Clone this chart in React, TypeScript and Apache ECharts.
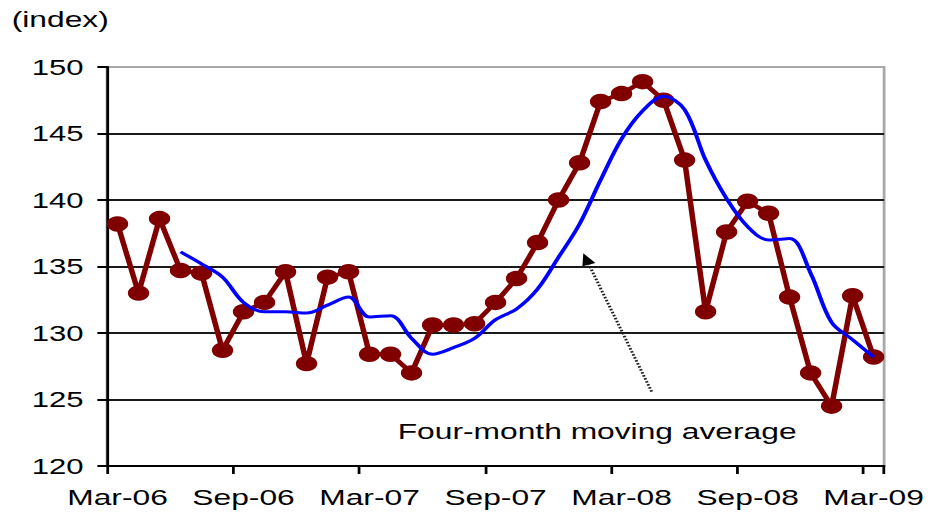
import React, { useEffect, useRef } from "react";
import * as echarts from "echarts";

const categories: string[] = [
  "Mar-06", "Apr-06", "May-06", "Jun-06", "Jul-06", "Aug-06", "Sep-06", "Oct-06", "Nov-06", "Dec-06",
  "Jan-07", "Feb-07", "Mar-07", "Apr-07", "May-07", "Jun-07", "Jul-07", "Aug-07", "Sep-07", "Oct-07",
  "Nov-07", "Dec-07", "Jan-08", "Feb-08", "Mar-08", "Apr-08", "May-08", "Jun-08", "Jul-08", "Aug-08",
  "Sep-08", "Oct-08", "Nov-08", "Dec-08", "Jan-09", "Feb-09", "Mar-09",
];

const indexValues: number[] = [
  138.2, 133.0, 138.6, 134.7, 134.5, 128.7, 131.6, 132.3, 134.6, 127.7,
  134.2, 134.6, 128.4, 128.4, 127.0, 130.6, 130.6, 130.7, 132.3, 134.1,
  136.8, 140.0, 142.8, 147.4, 148.0, 148.9, 147.5, 143.0, 131.6, 137.6,
  139.9, 139.0, 132.7, 127.0, 124.5, 132.8, 128.2,
];

const movingAverage: (number | null)[] = [
  null, null, null, 136.1, 135.2, 134.2, 132.3, 131.6, 131.6, 131.5,
  132.1, 132.7, 131.2, 131.3, 129.6, 128.4, 128.9, 129.6, 131.0, 131.8,
  133.3, 135.7, 138.2, 141.5, 144.6, 146.7, 147.8, 146.8, 143.0, 140.1,
  138.0, 137.0, 137.1, 134.5, 130.8, 129.5, 128.2,
];

const yMin = 120;
const yMax = 150;
const yStep = 5;
const unitLabel = "(index)";
const annotationText = "Four-month moving average";

const FONT = "'Liberation Sans', Arial, Helvetica, sans-serif";
const INNER_W = 672;
const SCALE_X = 928 / INNER_W;

export default function App() {
  const ref = useRef<HTMLDivElement | null>(null);

  useEffect(() => {
    if (!ref.current) return;
    const chart = echarts.init(ref.current, undefined, { renderer: "svg" });

    // arrow geometry (annotation)
    const tail = [471.9, 391.7];
    const tip = [422.4, 253.3];
    const dx = tip[0] - tail[0];
    const dy = tip[1] - tail[1];
    const len = Math.sqrt(dx * dx + dy * dy);
    const ux = dx / len;
    const uy = dy / len;
    const px = -uy;
    const py = ux;
    const headLen = 12;
    const headHalf = 5;
    const bx = tip[0] - ux * headLen;
    const by = tip[1] - uy * headLen;

    chart.setOption({
      animation: false,
      backgroundColor: "#ffffff",
      grid: {
        left: 77.5,
        right: 29,
        top: 67,
        bottom: 48,
        show: true,
        borderColor: "#a8a8a8",
        borderWidth: 2,
        backgroundColor: "transparent",
      },
      xAxis: {
        type: "category",
        data: categories,
        boundaryGap: true,
        axisLine: { show: true, lineStyle: { color: "#000", width: 2 } },
        axisTick: { show: true, interval: 5, length: 8, lineStyle: { color: "#000", width: 2 } },
        axisLabel: {
          interval: 5,
          margin: 20,
          color: "#000",
          fontSize: 23,
          fontFamily: FONT,
        },
        splitLine: { show: false },
      },
      yAxis: {
        type: "value",
        min: yMin,
        max: yMax,
        interval: yStep,
        axisLine: { show: true, lineStyle: { color: "#000", width: 2 } },
        axisTick: { show: true, length: 7, lineStyle: { color: "#000", width: 2 } },
        axisLabel: {
          margin: 17,
          color: "#000",
          fontSize: 22.5,
          fontFamily: FONT,
        },
        splitLine: {
          show: true,
          showMinLine: false,
          showMaxLine: false,
          lineStyle: { color: "#1a1a1a", width: 2 },
        },
      },
      series: [
        {
          type: "line",
          data: indexValues,
          symbol: "circle",
          symbolSize: 15.5,
          showSymbol: true,
          showAllSymbol: true,
          lineStyle: { color: "#800000", width: 4 },
          itemStyle: { color: "#800000" },
          z: 2,
        },
        {
          type: "line",
          data: movingAverage,
          symbol: "none",
          smooth: 0.35,
          lineStyle: { color: "#0000ff", width: 3 },
          z: 3,
        },
      ],
      graphic: [
        {
          type: "text",
          left: 8.5,
          top: 8,
          style: { text: unitLabel, fontSize: 23, fontFamily: FONT, fill: "#000" },
        },
        {
          type: "text",
          x: 288,
          y: 431,
          style: {
            text: annotationText,
            fontSize: 23,
            fontFamily: FONT,
            fill: "#000",
            verticalAlign: "middle",
            align: "left",
          },
        },
        {
          type: "line",
          shape: { x1: tail[0], y1: tail[1], x2: bx, y2: by },
          style: { stroke: "#222", lineWidth: 2.2, lineDash: [1.6, 1.6] },
        },
        {
          type: "polygon",
          shape: {
            points: [
              [tip[0], tip[1]],
              [bx + px * headHalf, by + py * headHalf],
              [bx - px * headHalf, by - py * headHalf],
            ],
          },
          style: { fill: "#000" },
        },
      ],
    });

    return () => {
      chart.dispose();
    };
  }, []);

  return (
    <div
      style={{
        position: "fixed",
        left: 0,
        top: 0,
        width: 928,
        height: 514,
        overflow: "hidden",
        background: "#fff",
      }}
    >
      <div
        ref={ref}
        style={{
          width: INNER_W,
          height: 514,
          transform: `scaleX(${SCALE_X})`,
          transformOrigin: "0 0",
        }}
      />
    </div>
  );
}
